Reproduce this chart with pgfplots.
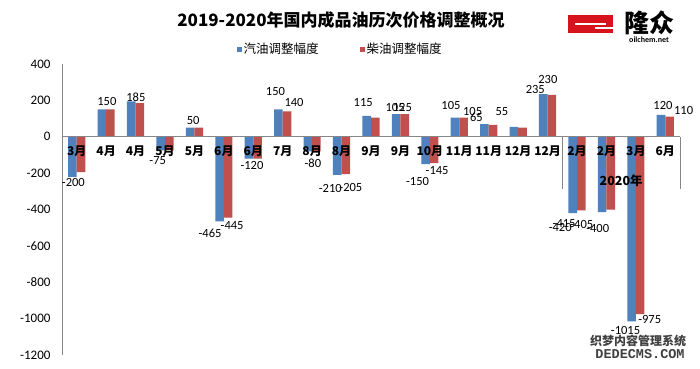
\documentclass[border=0pt]{standalone}
\usepackage{pgfplots}
\usepackage{pgfplotstable}
\pgfplotsset{compat=1.18}
\usepackage{fontspec}
\setmainfont{Carlito}
\newfontfamily\cjk{Noto Sans CJK SC}
\newfontfamily\monob{Liberation Mono}
\definecolor{cblue}{HTML}{4F81BD}
\definecolor{cred}{HTML}{C0504D}
\definecolor{axgray}{HTML}{868686}
\definecolor{logored}{HTML}{D7141E}

\pgfplotstableread{
x y lab show dx dy
0 -220 -200 1 1 2
1 150 150 1 5 0
2 195 195 0 0 0
3 -75 -75 1 -3 -3
4 50 50 1 3 0
5 -465 -465 1 -9.5 -4
6 -120 -120 1 3 1
7 150 150 1 -3 10
8 -80 -80 1 5 -4
9 -210 -210 1 -7 -6
10 115 115 1 -3.5 5.5
11 125 105 1 -1 -1
12 -150 -150 1 -8 -10
13 105 105 1 -4 5
14 70 65 1 -8 -1
15 55 55 1 -12 8
16 235 235 1 -8 -3
17 -420 -420 1 -12.5 -7
18 -415 -415 1 -38 -4
19 -1015 -1015 1 -6 -1
20 120 120 1 2 1.5
}\gas

\pgfplotstableread{
x y lab show dx dy
0 -195 -195 0 0 0
1 150 150 0 0 0
2 185 185 1 -4 -2
3 -75 -75 0 0 0
4 50 50 0 0 0
5 -445 -445 1 4 0
6 -120 -120 0 0 0
7 140 140 1 7 1
8 -80 -80 0 0 0
9 -205 -205 1 5 -6
10 105 105 0 0 0
11 125 125 1 -2.4 -1
12 -145 -145 1 3 0
13 105 105 1 9 -1
14 65 65 0 0 0
15 50 50 0 0 0
16 230 230 1 -4 8
17 -405 -405 1 0.5 -6
18 -400 -400 1 -13 -11
19 -975 -975 1 9.5 2
20 110 110 1 14 -1
}\diesel

\begin{document}
\begin{tikzpicture}
\useasboundingbox (0,0) rectangle (700pt,368pt);
\fill[white] (0,0) rectangle (700pt,368pt);
\begin{axis}[
  at={(62pt,13pt)}, anchor=south west,
  scale only axis, width=618pt, height=291pt,
  xmin=-0.5, xmax=20.5, ymin=-1200, ymax=400,
  axis y line*=left, axis x line*=middle,
  axis line style={axgray, line width=0.8pt},
  axis on top,
  hide obscured x ticks=false, hide obscured y ticks=false,
  major tick length=0pt,
  ybar=0pt, bar width=8.6pt,
  clip=false,
  ytick={-1200,-1000,-800,-600,-400,-200,0,200,400},
  yticklabels={-1200,-1000,-800,-600,-400,-200,0,200,400},
  yticklabel style={font=\fontsize{13}{15}\selectfont, xshift=-8pt},
  xtick={0,...,20},
  xticklabels={3月,4月,4月,5月,5月,6月,6月,7月,8月,8月,9月,9月,10月,11月,11月,12月,12月,2月,2月,3月,6月},
  xticklabel style={font=\cjk\bfseries\fontsize{12}{14}\selectfont, yshift=-5pt},
  legend style={at={(0.45,1.0515)}, anchor=center, draw=none, fill=none,
    legend columns=2, font=\cjk\fontsize{12.5}{14}\selectfont,
    /tikz/every even column/.append style={column sep=40pt},
    nodes={inner sep=1.5pt}},
  legend image code/.code={\fill[#1] (0pt,-2.5pt) rectangle (5pt,2.5pt);},
  lbl/.style={
    point meta=explicit,
    nodes near coords={\ifdim\myshow pt>0.5pt\pgfmathprintnumber[assume math mode=true,1000 sep={},int detect]{\pgfplotspointmeta}\fi},
    visualization depends on={\thisrow{show}\as\myshow},
    visualization depends on={\thisrow{dx}\as\mydx},
    visualization depends on={\thisrow{dy}\as\mydy},
    every node near coord/.append style={font=\fontsize{12.5}{14}\selectfont, xshift=\mydx pt, yshift=\mydy pt, text=black},
  },
]
\addplot[fill=cblue, draw=none, lbl] table[x=x, y=y, meta=lab] {\gas};
\addlegendentry{汽油调整幅度}
\addplot[fill=cred, draw=none, lbl] table[x=x, y=y, meta=lab] {\diesel};
\addlegendentry{柴油调整幅度}
\draw[axgray, line width=0.8pt] (axis cs:16.5,0) -- (axis cs:16.5,-290);
\draw[axgray, line width=0.8pt] (axis cs:20.5,0) -- (axis cs:20.5,-290);
\node[font=\cjk\bfseries\fontsize{12.5}{14}\selectfont] at (axis cs:18.5,-241) {2020年};
\end{axis}
% title
\node[font=\cjk\bfseries\fontsize{17}{20}\selectfont] at (341pt,348pt) {2019-2020年国内成品油历次价格调整概况};
% logo
\fill[logored] (568pt,335pt) rectangle (613pt,353pt);
\fill[white] (575pt,343pt) rectangle (606pt,345pt);
\fill[white] (595pt,339pt) rectangle (613pt,341pt);
\node[font=\cjk\bfseries\fontsize{25}{27}\selectfont, inner sep=0pt] at (649pt,345pt) {隆众};
\node[font=\bfseries\fontsize{8}{9}\selectfont, inner sep=0pt] at (649pt,328pt) {oilchem.net};
% watermark
\node[font=\cjk\bfseries\fontsize{12}{13}\selectfont, text=black!75, inner sep=0pt] at (638pt,27pt) {织梦内容管理系统};
\node[font=\monob\bfseries\fontsize{13.5}{14}\selectfont, text=black!75, inner sep=0pt] at (640pt,14pt) {DEDECMS.COM};
\end{tikzpicture}
\end{document}
